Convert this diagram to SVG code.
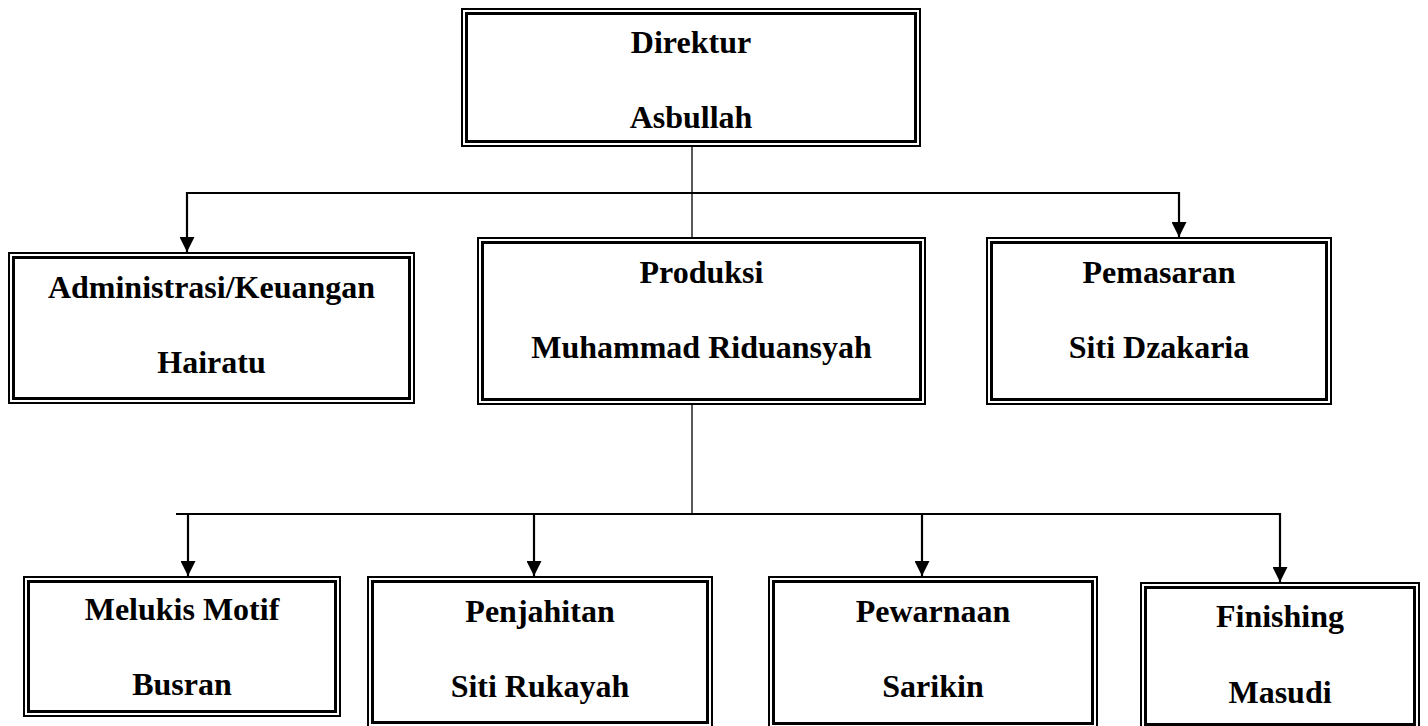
<svg xmlns="http://www.w3.org/2000/svg" width="1428" height="726" viewBox="0 0 1428 726">
<defs>
<style>
.o{fill:#fff;stroke:#000;stroke-width:2}
.i{fill:none;stroke:#000;stroke-width:3}
.t{font-family:"Liberation Serif","Times New Roman",serif;font-weight:bold;font-size:32px;fill:#000;text-anchor:middle}
.c{fill:none;stroke:#000;stroke-width:1.8}
.thin{fill:none;stroke:#000;stroke-width:1.3}
.a{fill:none;stroke:#000;stroke-width:2.2;marker-end:url(#ah)}
</style>
<marker id="ah" markerUnits="userSpaceOnUse" markerWidth="15" markerHeight="15" viewBox="0 0 15 15" refX="15" refY="7.5" orient="auto">
<path d="M0,0 L15,7.5 L0,15 z" fill="#000"/>
</marker>
</defs>
<rect width="1428" height="726" fill="#fff"/>
<g id="connectors">
<path class="thin" d="M692,147 V237"/>
<path class="c" d="M187,193 H1179"/>
<path class="a" d="M187,192 V252"/>
<path class="a" d="M1179,192 V237"/>
<path class="thin" d="M692,405 V514"/>
<path class="c" d="M176,514 H1280"/>
<path class="a" d="M188,513 V576"/>
<path class="a" d="M534,513 V576"/>
<path class="a" d="M922,513 V576"/>
<path class="a" d="M1280,513 V582"/>
</g>
<g id="direktur">
<rect class="o" x="462" y="9" width="458" height="137"/>
<rect class="i" x="466.5" y="13.5" width="449" height="128"/>
<text class="t" x="691" y="53">Direktur</text>
<text class="t" x="691" y="128">Asbullah</text>
</g>
<g id="administrasi">
<rect class="o" x="9" y="253" width="405" height="150"/>
<rect class="i" x="13.5" y="257.5" width="396" height="141"/>
<text class="t" x="211.5" y="298">Administrasi/Keuangan</text>
<text class="t" x="211.5" y="373">Hairatu</text>
</g>
<g id="produksi">
<rect class="o" x="478" y="238" width="447" height="166"/>
<rect class="i" x="482.5" y="242.5" width="438" height="157"/>
<text class="t" x="701.5" y="283">Produksi</text>
<text class="t" x="701.5" y="358">Muhammad Riduansyah</text>
</g>
<g id="pemasaran">
<rect class="o" x="987" y="238" width="344" height="166"/>
<rect class="i" x="991.5" y="242.5" width="335" height="157"/>
<text class="t" x="1159" y="283">Pemasaran</text>
<text class="t" x="1159" y="358">Siti Dzakaria</text>
</g>
<g id="melukis">
<rect class="o" x="24" y="577" width="316" height="139"/>
<rect class="i" x="28.5" y="581.5" width="307" height="130"/>
<text class="t" x="182" y="620">Melukis Motif</text>
<text class="t" x="182" y="695">Busran</text>
</g>
<g id="penjahitan">
<rect class="o" x="368" y="577" width="344" height="150"/>
<rect class="i" x="372.5" y="581.5" width="335" height="141"/>
<text class="t" x="540" y="622">Penjahitan</text>
<text class="t" x="540" y="697">Siti Rukayah</text>
</g>
<g id="pewarnaan">
<rect class="o" x="769" y="577" width="328" height="151"/>
<rect class="i" x="773.5" y="581.5" width="319" height="142"/>
<text class="t" x="933" y="622">Pewarnaan</text>
<text class="t" x="933" y="697">Sarikin</text>
</g>
<g id="finishing">
<rect class="o" x="1141" y="583" width="278" height="146"/>
<rect class="i" x="1145.5" y="587.5" width="269" height="137"/>
<text class="t" x="1280" y="627">Finishing</text>
<text class="t" x="1280" y="703">Masudi</text>
</g>
</svg>
